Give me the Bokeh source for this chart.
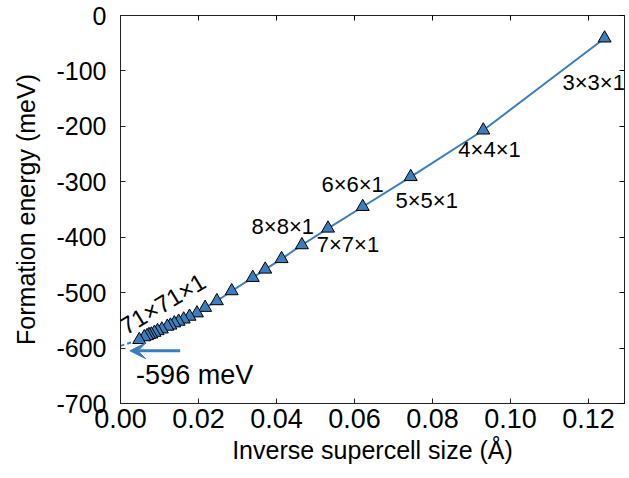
from bokeh.plotting import figure
from bokeh.models import Range1d, LinearAxis, FixedTicker, Arrow, VeeHead, ColumnDataSource, Label
from bokeh.core.properties import value
from bokeh.embed import file_html
from bokeh.resources import INLINE

# ---- data ----
supercell_n = [3, 4, 5, 6, 7, 8, 9, 10, 11, 13, 15, 17, 19, 21, 23, 25, 27, 29, 31,
               35, 39, 43, 47, 51, 55, 61, 71]
inv_size = [0.1241, 0.0930, 0.0744, 0.0621, 0.0532, 0.0465, 0.0413, 0.0371, 0.0339,
            0.0285, 0.0247, 0.0217, 0.0196, 0.0177, 0.0162, 0.0149, 0.0138, 0.0128,
            0.0120, 0.0106, 0.0095, 0.0087, 0.0079, 0.0073, 0.0068, 0.0061, 0.0048]
formation_energy = [-41, -207, -291, -345, -384, -414, -439, -458, -473,
                    -497, -515, -527, -537, -543, -548, -552, -555, -559,
                    -561, -566, -569, -572, -575, -576, -578, -580, -585]
extrapolated_energy = -596  # meV at infinite supercell

x_ticks = [0.00, 0.02, 0.04, 0.06, 0.08, 0.10, 0.12]
y_ticks = [0, -100, -200, -300, -400, -500, -600, -700]

label_texts = ["3×3×1", "4×4×1", "5×5×1", "6×6×1", "7×7×1", "8×8×1"]
label_x = [0.1213, 0.0946, 0.0785, 0.0595, 0.0583, 0.0416]
label_y = [-121, -241, -333, -304, -414, -381]

big_label_text = "71×71×1"
big_label_pos = (0.0108, -520)
big_label_angle = 0.54

arrow_x = [0.0153, 0.0024]
arrow_y = -605
arrow_label_pos = (0.0040, -648)

BLUE = "#3b7dbd"
FONT = "Liberation Sans"

p = figure(width=629, height=478, output_backend="svg", toolbar_location=None,
           x_range=Range1d(0, 0.1292), y_range=Range1d(-700, 0),
           min_border_left=120, min_border_right=5, min_border_top=15, min_border_bottom=75)
p.background_fill_color = "white"
p.border_fill_color = "white"
p.grid.visible = False
p.outline_line_color = "#222222"
p.outline_line_width = 1

for ax in (p.xaxis[0], p.yaxis[0]):
    ax.major_tick_in = 5
    ax.major_tick_out = 0
    ax.minor_tick_line_color = None
    ax.axis_line_color = "#222222"
    ax.major_tick_line_color = "#222222"
    ax.major_label_text_font = FONT
    ax.major_label_text_color = "black"
    ax.axis_label_text_font = FONT
    ax.axis_label_text_font_style = "normal"
    ax.axis_label_text_color = "black"

p.xaxis[0].ticker = FixedTicker(ticks=x_ticks)
p.xaxis[0].major_label_overrides = {t: f"{t:.2f}" for t in x_ticks}
p.xaxis[0].major_label_text_font_size = "27px"
p.xaxis[0].major_label_standoff = 5
p.xaxis[0].axis_label = "Inverse supercell size (Å)"
p.xaxis[0].axis_label_text_font_size = "25px"
p.xaxis[0].axis_label_standoff = 5

p.yaxis[0].ticker = FixedTicker(ticks=y_ticks)
p.yaxis[0].major_label_overrides = {t: str(t) for t in y_ticks}
p.yaxis[0].major_label_text_font_size = "25px"
p.yaxis[0].major_label_standoff = 14
p.yaxis[0].axis_label = "Formation energy (meV)"
p.yaxis[0].axis_label_text_font_size = "25px"
p.yaxis[0].axis_label_standoff = 13

top = LinearAxis(ticker=FixedTicker(ticks=x_ticks), major_tick_in=5, major_tick_out=0,
                 minor_tick_line_color=None, major_label_overrides={t: "" for t in x_ticks},
                 major_label_standoff=0, axis_line_color="#222222")
right = LinearAxis(ticker=FixedTicker(ticks=y_ticks), major_tick_in=5, major_tick_out=0,
                   minor_tick_line_color=None, major_label_overrides={t: "" for t in y_ticks},
                   major_label_standoff=0, axis_line_color="#222222")
p.add_layout(top, "above")
p.add_layout(right, "right")

src = ColumnDataSource(dict(x=inv_size, y=formation_energy, n=supercell_n))

# extrapolation (dashed) from infinite size to the largest supercell
p.line([0, inv_size[-1]], [extrapolated_energy, formation_energy[-1]],
       line_color=BLUE, line_width=2, line_dash="4 3")
p.line("x", "y", source=src, line_color=BLUE, line_width=2)
p.scatter("x", "y", source=src, marker="triangle", size=13,
          fill_color=BLUE, line_color="black", line_width=1)

lsrc = ColumnDataSource(dict(x=label_x, y=label_y, t=label_texts))
p.text("x", "y", text="t", source=lsrc, text_font=value(FONT), text_font_size="22px",
       text_align="center", text_baseline="middle", text_color="black")

p.add_layout(Label(x=big_label_pos[0], y=big_label_pos[1], text=big_label_text,
                   angle=big_label_angle, text_font=FONT, text_font_size="24px",
                   text_align="center", text_baseline="middle", text_color="black"))

p.add_layout(Arrow(x_start=arrow_x[0], y_start=arrow_y, x_end=arrow_x[1], y_end=arrow_y,
                   line_color=BLUE, line_width=3,
                   end=VeeHead(size=16, fill_color=BLUE, line_color=BLUE, line_width=1)))
p.add_layout(Label(x=arrow_label_pos[0], y=arrow_label_pos[1], text=f"{extrapolated_energy} meV",
                   text_font=FONT, text_font_size="27px", text_align="left",
                   text_baseline="middle", text_color="black"))

open("out.html", "w").write(file_html(p, INLINE))
